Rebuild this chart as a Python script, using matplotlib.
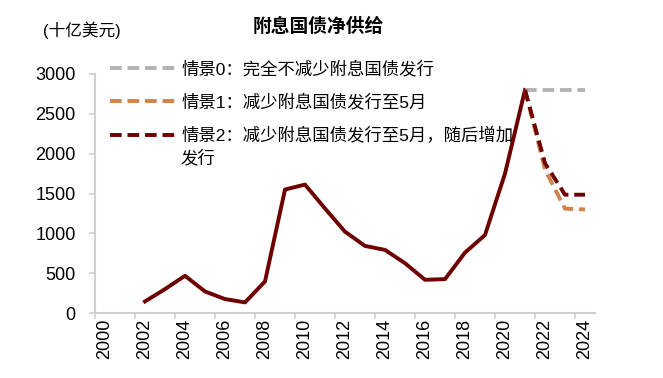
import matplotlib.pyplot as plt
from matplotlib.ticker import FixedLocator

plt.rcParams['font.family'] = ['Liberation Sans', 'Noto Sans CJK SC', 'DejaVu Sans']

# Data (十亿美元)
years = list(range(2002, 2022))
supply = [145, 300, 467, 270, 175, 133, 396, 1550, 1612, 1312,
          1021, 842, 792, 625, 417, 425, 758, 979, 1750, 2800]
proj_years = [2021, 2022, 2023, 2024]
scen0 = [2800, 2800, 2800, 2800]
scen1 = [2800, 1800, 1310, 1300]
scen2 = [2800, 1880, 1485, 1485]

labels = ['情景0：完全不减少附息国债发行',
          '情景1：减少附息国债发行至5月',
          '情景2：减少附息国债发行至5月，随后增加']

c_gray = '#B3B3B3'
c_orange = '#CF844B'
c_red = '#6E0000'

fig = plt.figure(figsize=(6.63, 3.78), dpi=100)
ax = fig.add_axes([95/663, 1-313/378, 500/663, 239/378])

ax.plot(years, supply, color=c_red, linewidth=2.8, solid_joinstyle='round')
l0, = ax.plot(proj_years, scen0, color=c_gray, linewidth=2.8, dashes=(3, 1.5), label=labels[0])
l1, = ax.plot(proj_years, scen1, color=c_orange, linewidth=2.8, dashes=(3, 1.5), label=labels[1])
l2, = ax.plot(proj_years, scen2, color=c_red, linewidth=2.8, dashes=(3, 1.5), label=labels[2])

ax.set_xlim(1999.5, 2024.5)
ax.set_ylim(0, 3000)
ax.set_yticks([0, 500, 1000, 1500, 2000, 2500, 3000])
ax.set_xticks(range(2000, 2025, 2))
ax.set_xticklabels([str(y) for y in range(2000, 2025, 2)], rotation=90)
ax.xaxis.set_minor_locator(FixedLocator([1999.5 + 2 * i for i in range(13)]))
ax.tick_params(axis='x', which='major', length=0, pad=4, labelsize=13)
ax.tick_params(axis='x', which='minor', length=4, color='#D0D0D0', width=1.2)
ax.tick_params(axis='y', length=4, color='#D0D0D0', width=1.2, pad=10, labelsize=13)

for s in ['top', 'right']:
    ax.spines[s].set_visible(False)
for s in ['left', 'bottom']:
    ax.spines[s].set_color('#D0D0D0')
    ax.spines[s].set_linewidth(1.5)

fig.text(318/663, 1-27/378, '附息国债净供给', ha='center', va='center',
         fontsize=13.5, fontweight='bold')
fig.text(82/663, 1-30/378, '(十亿美元)', ha='center', va='center', fontsize=12)

leg = ax.legend(handles=[l0, l1, l2], loc='upper left',
                bbox_to_anchor=(110/663, 1-60/378), bbox_transform=fig.transFigure,
                frameon=False, fontsize=12.5, handlelength=3.8, handletextpad=0.3,
                labelspacing=0.95, borderpad=0, borderaxespad=0)
fig.text(180/663, 1-158/378, '发行', ha='left', va='center', fontsize=12.5)

plt.savefig('out.png', dpi=100)
